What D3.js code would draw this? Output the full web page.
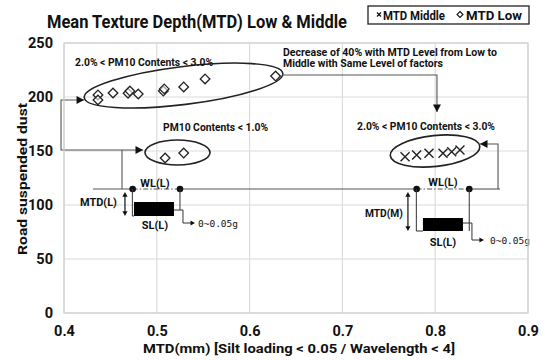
<!DOCTYPE html>
<html><head><meta charset="utf-8">
<script src="https://cdn.jsdelivr.net/npm/d3@7"></script>
<style>
body{margin:0;background:#fff;}
text{font-family:Roboto,"Noto Sans",sans-serif;font-weight:bold;fill:#111;}
.mono{font-family:"DejaVu Sans Mono","Liberation Mono",monospace;font-weight:normal;}
</style>
</head><body>
<svg id="chart" width="550" height="360"></svg>
<script>
// ---- data ----
const title = "Mean Texture Depth(MTD) Low & Middle";
const xTitle = "MTD(mm) [Silt loading < 0.05 / Wavelength < 4]";
const yTitle = "Road suspended dust";
const xTicks = [0.4, 0.5, 0.6, 0.7, 0.8, 0.9];
const yTicks = [0, 50, 100, 150, 200, 250];
const seriesNames = ["MTD Middle", "MTD Low"];
// MTD Low (diamonds)
const lowX = [0.4366, 0.4366, 0.4528, 0.469, 0.471, 0.480, 0.507, 0.508, 0.529, 0.552, 0.628, 0.509, 0.529];
const lowY = [201.9, 197.2, 203.7, 203.5, 205.5, 202.8, 205.5, 207.5, 209.3, 216.7, 219.4, 143.5, 148.1];
// MTD Middle (crosses)
const midX = [0.7675, 0.780, 0.7933, 0.8084, 0.8178, 0.8267];
const midY = [144.7, 146.3, 147.9, 147.9, 149.4, 150.9];

// ---- layout ----
const svg = d3.select("#chart");
const x = d3.scaleLinear().domain([0.4, 0.9]).range([64, 528]);
const y = d3.scaleLinear().domain([0, 250]).range([313, 43]);

// grid
svg.append("g").selectAll("line").data(xTicks).join("line")
  .attr("x1", d => x(d)).attr("x2", d => x(d)).attr("y1", y(0)).attr("y2", y(250))
  .attr("stroke", "#dcdcdc").attr("stroke-width", 1.2);
svg.append("g").selectAll("line").data(yTicks).join("line")
  .attr("x1", x(0.4)).attr("x2", x(0.9)).attr("y1", d => y(d)).attr("y2", d => y(d))
  .attr("stroke", "#dcdcdc").attr("stroke-width", 1.2);

// axes (labels only)
const yAxis = d3.axisLeft(y).tickValues(yTicks).tickSize(0).tickPadding(11).tickFormat(d3.format("d"));
const gy = svg.append("g").attr("transform", `translate(${x(0.4)},0)`).call(yAxis);
gy.select(".domain").remove();
gy.selectAll("text").style("font-size", "14.5px").style("font-family", "Roboto").style("font-weight", "bold").attr("fill", "#111");
const xAxis = d3.axisBottom(x).tickValues(xTicks).tickSize(0).tickPadding(13).tickFormat(d3.format(".1f"));
const gx = svg.append("g").attr("transform", `translate(0,${y(0)})`).call(xAxis);
gx.select(".domain").remove();
gx.selectAll("text").style("font-size", "14.5px").style("font-family", "Roboto").style("font-weight", "bold").attr("fill", "#111");

// titles
svg.append("text").attr("x", 47).attr("y", 28).attr("textLength", 300).attr("lengthAdjust", "spacingAndGlyphs")
  .style("font-size", "18px").text(title);
svg.append("text").attr("x", 143).attr("y", 353).attr("textLength", 312).attr("lengthAdjust", "spacingAndGlyphs")
  .style("font-size", "13.5px").text(xTitle);
svg.append("text").attr("transform", "translate(27,255) rotate(-90)").attr("textLength", 152).attr("lengthAdjust", "spacingAndGlyphs")
  .style("font-size", "13.5px").text(yTitle);

// legend
const lg = svg.append("g").attr("transform", "translate(368,6)");
lg.append("rect").attr("width", 161).attr("height", 18).attr("fill", "#fff").attr("stroke", "#222").attr("stroke-width", 1.3);
lg.append("path").attr("d", "M9,6.5l4,4M13,6.5l-4,4").attr("stroke", "#111").attr("stroke-width", 1.3);
lg.append("text").attr("x", 15).attr("y", 13.5).attr("textLength", 62).attr("lengthAdjust", "spacingAndGlyphs").style("font-size", "12px").text(seriesNames[0]);
lg.append("path").attr("d", "M92,5.5l3,3l-3,3l-3,-3z").attr("stroke", "#111").attr("fill", "#fff").attr("stroke-width", 1.1);
lg.append("text").attr("x", 98).attr("y", 13.5).attr("textLength", 56).attr("lengthAdjust", "spacingAndGlyphs").style("font-size", "12px").text(seriesNames[1]);

// ---- annotations (in data units) ----
const ann = svg.append("g");
const ink = "#222", gray = "#555";
function arrowHead(tx, ty, dir, s = 5) {
  let p;
  if (dir === "r") p = [[tx, ty], [tx - s * 1.5, ty - s * 0.8], [tx - s * 1.5, ty + s * 0.8]];
  if (dir === "l") p = [[tx, ty], [tx + s * 1.5, ty - s * 0.8], [tx + s * 1.5, ty + s * 0.8]];
  if (dir === "d") p = [[tx, ty], [tx - s * 0.8, ty - s * 1.5], [tx + s * 0.8, ty - s * 1.5]];
  ann.append("path").attr("d", "M" + p.join("L") + "Z").attr("fill", "#111");
}
function pline(pts, color = gray, w = 1.1, dash = null) {
  const l = ann.append("path").attr("d", d3.line()(pts)).attr("fill", "none").attr("stroke", color).attr("stroke-width", w);
  if (dash) l.attr("stroke-dasharray", dash);
}
// ellipses
const ellipses = [
  {cx: 0.5288, cy: 210.6, rx: 100, ry: 19, rot: -7},
  {cx: 0.5223, cy: 148.6, rx: 32.5, ry: 12.5, rot: 0},
  {cx: 0.7998, cy: 150.0, rx: 45, ry: 15.5, rot: -6},
];
ellipses.forEach(e => {
  ann.append("ellipse").attr("cx", 0).attr("cy", 0).attr("rx", e.rx).attr("ry", e.ry)
    .attr("transform", `translate(${x(e.cx)},${y(e.cy)}) rotate(${e.rot})`)
    .attr("fill", "none").attr("stroke", ink).attr("stroke-width", 1.6);
});

// left bracket
pline([[x(0.4216), y(197.2)], [x(0.3968), y(197.2)], [x(0.3968), y(150.9)], [x(0.4851), y(150.9)]]);
arrowHead(x(0.4216), y(197.2), "r");
arrowHead(x(0.4851), y(150.9), "r");
pline([[x(0.4625), y(150.9)], [x(0.4625), y(114.8)]]);
// long horizontal line with dash-dot segments
pline([[x(0.4313), y(114.8)], [x(0.474), y(114.8)]]);
pline([[x(0.474), y(114.8)], [x(0.525), y(114.8)]], gray, 1.1, "5,2,1.5,2");
pline([[x(0.525), y(114.8)], [x(0.780), y(114.8)]]);
pline([[x(0.780), y(114.8)], [x(0.8367), y(114.8)]], gray, 1.1, "5,2,1.5,2");
pline([[x(0.8367), y(114.8)], [x(0.8698), y(114.8)]]);
// right bracket
pline([[x(0.8677), y(114.8)], [x(0.8677), y(156.5)], [x(0.8483), y(156.5)]]);
arrowHead(x(0.8483), y(156.5), "l");
// top connector
pline([[x(0.6349), y(220.4)], [x(0.8019), y(220.4)], [x(0.8019), y(186.1)]]);
arrowHead(x(0.8019), y(186.1), "d");
// dots
[0.474, 0.525, 0.780, 0.8367].forEach(v => ann.append("circle").attr("cx", x(v)).attr("cy", y(114.8)).attr("r", 3.3).attr("fill", "#111"));

// annotation texts
function atext(xd, yd, str, w, size = 11) {
  ann.append("text").attr("x", x(xd)).attr("y", y(yd)).attr("textLength", w).attr("lengthAdjust", "spacingAndGlyphs")
    .style("font-size", size + "px").text(str);
}
atext(0.4119, 228.7, "2.0% < PM10 Contents < 3.0%", 138);
atext(0.5067, 168.5, "PM10 Contents < 1.0%", 105);
atext(0.636, 238.0, "Decrease of 40% with MTD Level from Low to", 214, 10);
atext(0.636, 227.4, "Middle with Same Level of factors", 160, 10);
atext(0.7157, 169.4, "2.0% < PM10 Contents < 3.0%", 138);

// mini diagrams
function mini(ax, lab, o) {
  const X0 = x(ax), Y0 = y(114.8);
  const P = (dx, dy) => [X0 + dx, Y0 + dy];
  const g = ann;
  g.append("text").attr("x", X0 + o.wlx).attr("y", Y0 + o.wly).attr("text-anchor", "middle").style("font-size", "11px").text("WL(L)");
  pline([P(-0.3, 0), P(-0.3, o.bot), P(o.r0, o.bot)], "#333", 1);
  pline([P(o.d2, 0), P(o.d2, o.rv)], "#333", 1);
  g.append("rect").attr("x", X0 + o.r0).attr("y", Y0 + o.rt).attr("width", o.r1 - o.r0).attr("height", o.bot - o.rt).attr("fill", "#000");
  pline([P(o.r1, o.sy), P(o.r1 + 9, o.sy), P(o.r1 + 9, o.ay), P(o.r1 + 18, o.ay)], "#333", 1);
  arrowHead(X0 + o.r1 + 21, Y0 + o.ay, "r", 3);
  g.append("text").attr("class", "mono").attr("x", X0 + o.tx).attr("y", Y0 + o.ay + 3.5).style("font-size", "9.5px").text("0~0.05g");
  g.append("text").attr("x", X0 + o.mx).attr("y", Y0 + o.my).attr("text-anchor", "end").attr("textLength", o.mw).attr("lengthAdjust", "spacingAndGlyphs").style("font-size", "11px").text(lab);
  pline([P(o.ax, 6), P(o.ax, o.bot - 3)], "#111", 1.2);
  arrowHead(X0 + o.ax, Y0 + o.bot, "d", 3.2);
  ann.append("path").attr("d", `M${X0 + o.ax},${Y0 + 3}l-2.6,4.8h5.2z`).attr("fill", "#111");
  g.append("text").attr("x", X0 + o.wlx).attr("y", Y0 + o.sly).attr("text-anchor", "middle").style("font-size", "11px").text("SL(L)");
}
mini(0.474, "MTD(L)", {wlx: 22.3, wly: -2.5, d2: 47.3, bot: 27, r0: 1.3, r1: 41.3, rt: 13, rv: 21, sy: 21, ay: 34, tx: 65.3, mx: -15.7, my: 17, mw: 37, ax: -7.7, sly: 40});
mini(0.780, "MTD(M)", {wlx: 26.3, wly: -3, d2: 52.6, bot: 42, r0: 6.3, r1: 46.3, rt: 29, rv: 42, sy: 34, ay: 51, tx: 73.3, mx: -13.7, my: 28, mw: 38, ax: -8.7, sly: 57});

// ---- data marks ----
const lowData = lowX.map((v, i) => ({x: v, y: lowY[i]}));
const midData = midX.map((v, i) => ({x: v, y: midY[i]}));
svg.append("g").selectAll("path").data(lowData).join("path")
  .attr("d", d => `M${x(d.x)},${y(d.y) - 4.8}l4.8,4.8l-4.8,4.8l-4.8,-4.8z`)
  .attr("fill", "#fff").attr("fill-opacity", 0.6).attr("stroke", "#222").attr("stroke-width", 1.3);
svg.append("g").selectAll("path").data(midData).join("path")
  .attr("d", d => `M${x(d.x) - 4.5},${y(d.y) - 4.5}l9,9M${x(d.x) + 4.5},${y(d.y) - 4.5}l-9,9`)
  .attr("stroke", "#222").attr("stroke-width", 1.4);

// plot border
svg.append("rect").attr("x", x(0.4)).attr("y", y(250)).attr("width", x(0.9) - x(0.4)).attr("height", y(0) - y(250))
  .attr("fill", "none").attr("stroke", "#cfcfcf").attr("stroke-width", 1.2);
</script>
</body></html>
